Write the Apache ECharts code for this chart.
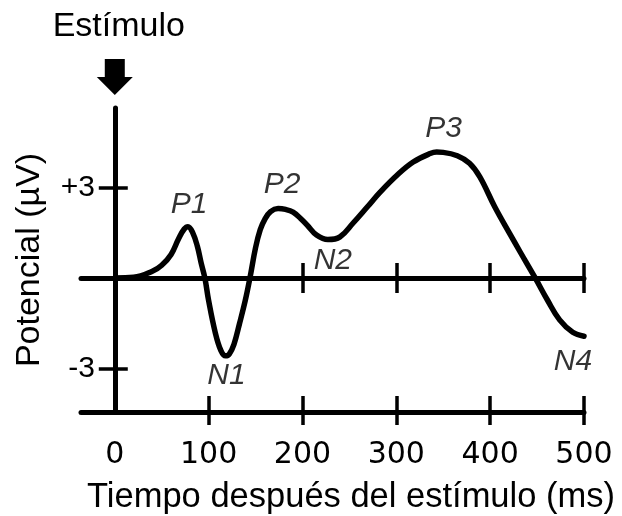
<!DOCTYPE html>
<html>
<head>
<meta charset="utf-8">
<script src="https://cdn.jsdelivr.net/npm/echarts@6/dist/echarts.min.js"></script>
<style>
  html, body { margin: 0; padding: 0; background: #fff; }
  #chart { width: 622px; height: 516px; }
</style>
</head>
<body>
<div id="chart"></div>
<script>
// Event-related potential waveform: time after stimulus (ms) vs potential (µV)
const timesMs = [0, 20, 40, 50, 60, 68, 74, 78, 83, 88, 92, 96, 100, 107, 113, 118, 122, 127, 133, 139, 144,
  150, 155, 160, 166, 174, 182, 190, 198, 205, 215, 227, 240, 254, 269, 283, 301, 318, 336, 343, 350,
  365, 378, 389, 405, 421, 432, 448, 461, 474, 488, 500];
const potentialUv = [0, 0.02, 0.22, 0.42, 0.78, 1.3, 1.62, 1.7, 1.5, 1.05, 0.5, 0, -0.75, -1.8, -2.4, -2.58, -2.52, -2.2, -1.5, -0.75, 0,
  1.0, 1.6, 1.95, 2.2, 2.3, 2.27, 2.18, 1.97, 1.75, 1.42, 1.27, 1.36, 1.82, 2.35, 2.85, 3.41, 3.84, 4.12, 4.17, 4.16,
  4.05, 3.8, 3.35, 2.35, 1.46, 0.86, 0, -0.73, -1.39, -1.8, -1.93];

// Named components of the waveform and the time at which each one is marked
const peakNames = ['P1', 'N1', 'P2', 'N2', 'P3', 'N4'];
const peakTimes = [78, 118, 174, 227, 343, 500];

// Axis ticks and labels
const xLabelValues = [0, 100, 200, 300, 400, 500];
const xBottomTicks = [100, 200, 300, 400, 500];
const xZeroTicks = [200, 300, 400, 500];
const yTickValues = [-3, 3];

const xMin = -36, xMax = 500;
const yMin = -4.44, yMax = 5.63;

const black = '#000';
const sans = 'Liberation Sans, Arial, sans-serif';

const curve = timesMs.map((t, i) => [t, potentialUv[i]]);

// label placement for each named component
const peakLabelStyle = {
  P1: { position: 'top', distance: 7, offset: [1, 0] },
  N1: { position: 'bottom', distance: 5, offset: [1, 0] },
  P2: { position: 'top', distance: 9, offset: [4, 0] },
  N2: { position: 'bottom', distance: 6, offset: [5, 0] },
  P3: { position: 'top', distance: 8, offset: [7, 0] },
  N4: { position: 'bottom', distance: 10, offset: [-11, 0] }
};
const peakData = peakNames.map((name, i) => {
  const t = peakTimes[i];
  const v = potentialUv[timesMs.indexOf(t)];
  return { name: name, value: [t, v], label: peakLabelStyle[name] };
});

function baseX(extra) {
  return Object.assign({
    type: 'value', min: xMin, max: xMax, position: 'bottom',
    splitLine: { show: false }
  }, extra);
}
function baseY(extra) {
  return Object.assign({
    type: 'value', min: yMin, max: yMax, position: 'left',
    splitLine: { show: false }
  }, extra);
}
const tickStyle = { color: black, width: 3.5 };

const chart = echarts.init(document.getElementById('chart'), null, { renderer: 'canvas' });

chart.setOption({
  animation: false,
  backgroundColor: '#fff',
  grid: { left: 81, right: 38, top: 108, bottom: 104, outerBoundsMode: 'none' },
  xAxis: [
    // bottom time axis
    baseX({
      axisLine: { onZero: false, lineStyle: { color: black, width: 5 } },
      axisTick: { customValues: xBottomTicks, length: 13, lineStyle: tickStyle },
      axisLabel: { customValues: xLabelValues, margin: 28, color: black, fontSize: 30, fontFamily: 'DejaVu Sans' },
      name: 'Tiempo después del estímulo (ms)',
      nameLocation: 'middle',
      nameGap: 68,
      nameMoveOverlap: false,
      nameTextStyle: { color: black, fontSize: 34.5, fontFamily: sans, padding: [0, 0, 0, 37] }
    }),
    baseX({
      axisLine: { show: false, onZero: false },
      axisTick: { inside: true, customValues: xBottomTicks, length: 16, lineStyle: tickStyle },
      axisLabel: { show: false }
    }),
    // baseline at 0 µV
    baseX({
      axisLine: { onZero: true, onZeroAxisIndex: 0, lineStyle: { color: black, width: 5 } },
      axisTick: { customValues: xZeroTicks, length: 15, lineStyle: tickStyle },
      axisLabel: { show: false }
    }),
    baseX({
      axisLine: { show: false, onZero: true, onZeroAxisIndex: 0 },
      axisTick: { inside: true, customValues: xZeroTicks, length: 15, lineStyle: tickStyle },
      axisLabel: { show: false }
    })
  ],
  yAxis: [
    // labels and name of an on-zero axis are laid out from the grid's left edge
    baseY({
      axisLine: { onZero: true, onZeroAxisIndex: 0, lineStyle: { color: black, width: 5 } },
      axisTick: { customValues: yTickValues, length: 16, lineStyle: tickStyle },
      axisLabel: {
        customValues: yTickValues, margin: -14, color: black, fontSize: 30, fontFamily: sans,
        formatter: v => (v > 0 ? '+' + v : String(v))
      },
      name: 'Potencial (µV)',
      nameLocation: 'middle',
      nameRotate: 90,
      nameGap: 34,
      nameMoveOverlap: false,
      nameTextStyle: { color: black, fontSize: 34, fontFamily: sans }
    }),
    baseY({
      axisLine: { show: false, onZero: true, onZeroAxisIndex: 0 },
      axisTick: { inside: true, customValues: yTickValues, length: 13, lineStyle: tickStyle },
      axisLabel: { show: false }
    })
  ],
  series: [
    {
      type: 'line',
      data: curve,
      smooth: 0.4,
      showSymbol: false,
      lineStyle: { color: black, width: 5.5, cap: 'round', join: 'round' },
      z: 5
    },
    {
      type: 'scatter',
      data: peakData,
      symbolSize: 0,
      silent: true,
      label: {
        show: true,
        formatter: '{b}',
        color: black,
        fontSize: 30,
        fontStyle: 'italic',
        fontFamily: sans
      },
      z: 6
    }
  ]
});

// stimulus onset marker above the vertical axis
const onsetX = chart.convertToPixel({ xAxisIndex: 0 }, 0);
chart.setOption({
  graphic: [
    {
      type: 'polygon',
      shape: {
        points: [
          [onsetX - 10, 59], [onsetX + 10, 59], [onsetX + 10, 77], [onsetX + 18, 77],
          [onsetX, 95], [onsetX - 18, 77], [onsetX - 10, 77]
        ]
      },
      style: { fill: black }
    },
    {
      type: 'text',
      x: onsetX + 4,
      y: 44,
      style: {
        text: 'Estímulo',
        fill: black,
        font: '34px ' + sans,
        textAlign: 'center',
        textVerticalAlign: 'bottom'
      }
    }
  ]
});
</script>
</body>
</html>
